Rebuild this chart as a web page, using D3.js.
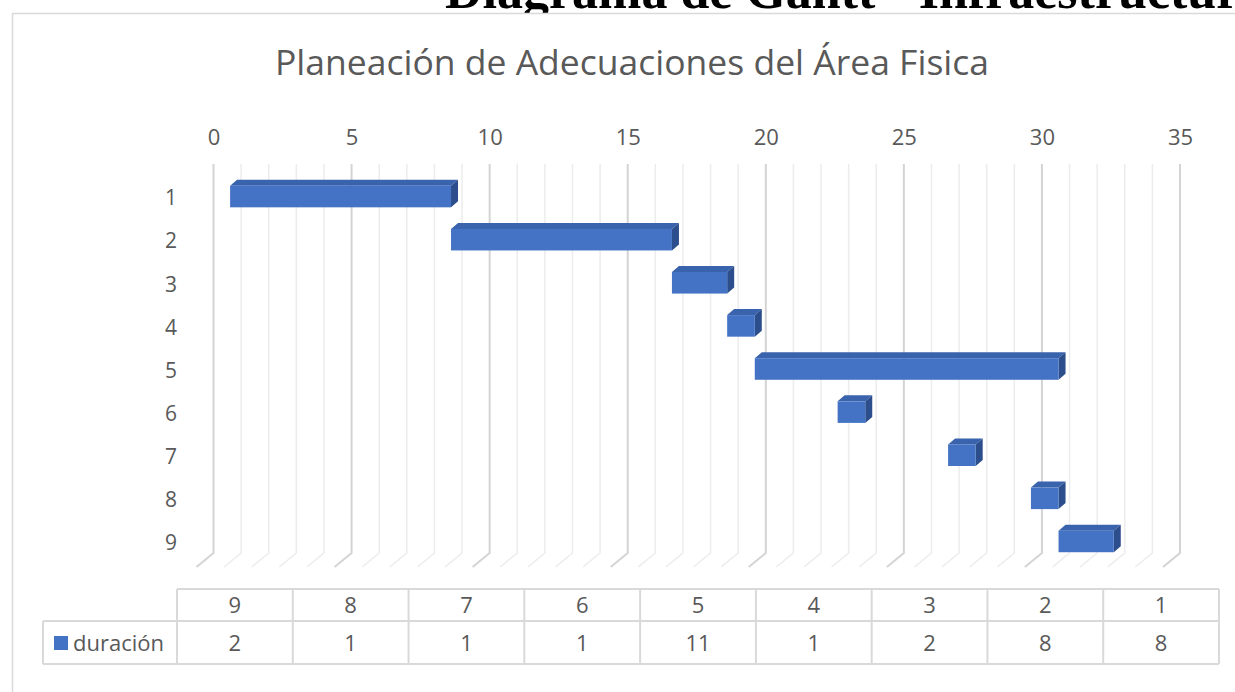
<!DOCTYPE html>
<html>
<head>
<meta charset="utf-8">
<script src="https://cdn.jsdelivr.net/npm/d3@7"></script>
<style>
  body { margin: 0; background: #fff; }
  text { font-family: "Open Sans", "Noto Sans", sans-serif; fill: #595959; }
</style>
</head>
<body>
<script>
// chart values
var categories = ["1", "2", "3", "4", "5", "6", "7", "8", "9"];
var starts     = [1, 9, 17, 19, 20, 23, 27, 30, 31];
var durations  = [8, 8, 2, 1, 11, 1, 1, 1, 2];
var xTicks     = [0, 5, 10, 15, 20, 25, 30, 35];
var seriesName = "duración";

var width = 1235, height = 692;

var svg = d3.select("body")
  .append("svg")
    .attr("width", width)
    .attr("height", height);

// page heading behind the chart, mostly hidden
svg.append("text")
    .attr("x", 445)
    .attr("y", 8)
    .style("font-family", "'Liberation Serif', 'DejaVu Serif', serif")
    .style("font-weight", "bold")
    .style("font-size", "52px")
    .style("fill", "#000")
    .text("Diagrama de Gantt - Infraestructura");

// chart area
svg.append("rect")
    .attr("x", 12.5)
    .attr("y", 13.5)
    .attr("width", 1300)
    .attr("height", 800)
    .style("fill", "#fff")
    .style("stroke", "#d9d9d9")
    .style("stroke-width", 1.5);

svg.append("text")
    .attr("x", 632)
    .attr("y", 75)
    .attr("text-anchor", "middle")
    .style("font-size", "35.5px")
    .text("Planeación de Adecuaciones del Área Fisica");

var x = d3.scaleLinear()
    .domain([0, 35])
    .range([213.5, 1180]);

var y = d3.scaleBand()
    .domain(categories)
    .range([175, 563])
    .paddingInner(0.5)
    .paddingOuter(0.25);

var wallTop = 164, wallBottom = 553;
var floorDx = -17, floorDy = 14;
var depthDx = 7, depthDy = -6, frontShift = -11;

// back wall + floor gridlines
var grid = svg.append("g").attr("class", "grid");
grid.selectAll("path")
    .data(d3.range(0, 36))
  .enter().append("path")
    .attr("d", function(d) {
      return "M" + x(d) + "," + wallTop + "V" + wallBottom +
             "l" + floorDx + "," + floorDy;
    })
    .style("fill", "none")
    .style("stroke", function(d) { return d % 5 === 0 ? "#d4d4d4" : "#ececec"; })
    .style("stroke-width", function(d) { return d % 5 === 0 ? 2 : 1.5; });

var xAxis = d3.axisTop(x)
    .tickValues(xTicks)
    .tickSize(0)
    .tickPadding(0);

svg.append("g")
    .attr("transform", "translate(0,145)")
    .call(xAxis)
    .call(function(g) {
      g.select(".domain").remove();
      g.selectAll("text").style("font-size", "22px").style("fill", "#595959");
    });

var yAxis = d3.axisLeft(y)
    .tickSize(0)
    .tickPadding(0);

svg.append("g")
    .attr("transform", "translate(177,2)")
    .call(yAxis)
    .call(function(g) {
      g.select(".domain").remove();
      g.selectAll("text").style("font-size", "21px").style("fill", "#595959");
    });

// 3d bars
var bars = categories.map(function(c, i) {
  return {
    cat: c,
    x0: x(starts[i]) + frontShift,
    x1: x(starts[i] + durations[i]) + frontShift,
    y0: y(c),
    h: y.bandwidth()
  };
});

var barG = svg.selectAll(".bar")
    .data(bars)
  .enter().append("g")
    .attr("class", "bar");

barG.append("path")
    .attr("d", function(d) {
      return "M" + d.x0 + "," + d.y0 +
             "l" + depthDx + "," + depthDy +
             "H" + (d.x1 + depthDx) +
             "L" + d.x1 + "," + d.y0 + "Z";
    })
    .style("fill", "#3a63ad");

barG.append("path")
    .attr("d", function(d) {
      return "M" + d.x1 + "," + d.y0 +
             "l" + depthDx + "," + depthDy +
             "v" + d.h +
             "L" + d.x1 + "," + (d.y0 + d.h) + "Z";
    })
    .style("fill", "#2c4e8c");

barG.append("rect")
    .attr("x", function(d) { return d.x0; })
    .attr("y", function(d) { return d.y0; })
    .attr("width", function(d) { return d.x1 - d.x0; })
    .attr("height", function(d) { return d.h; })
    .style("fill", "#4472c4");

// data table
var tableCats = categories.slice().reverse();
var tableVals = durations.slice().reverse();

var col = d3.scaleBand()
    .domain(tableCats)
    .range([177, 1219]);

var rowTop = 589, rowMid = 621, rowBot = 664, legendLeft = 43;

var table = svg.append("g").attr("class", "table");
var lineStyle = function(sel) {
  sel.style("stroke", "#d9d9d9").style("stroke-width", 2).style("fill", "none");
};

table.append("path")
    .attr("d", "M" + col.range()[0] + "," + rowTop + "H" + col.range()[1] +
               "M" + legendLeft + "," + rowMid + "H" + col.range()[1] +
               "M" + legendLeft + "," + rowBot + "H" + col.range()[1] +
               "M" + legendLeft + "," + rowMid + "V" + rowBot)
    .call(lineStyle);

table.selectAll(".vline")
    .data(tableCats.concat(["end"]))
  .enter().append("line")
    .attr("class", "vline")
    .attr("x1", function(d) { return d === "end" ? col.range()[1] : col(d); })
    .attr("x2", function(d) { return d === "end" ? col.range()[1] : col(d); })
    .attr("y1", rowTop)
    .attr("y2", rowBot)
    .call(lineStyle);

table.selectAll(".hdr")
    .data(tableCats)
  .enter().append("text")
    .attr("x", function(d) { return col(d) + col.bandwidth() / 2; })
    .attr("y", 613)
    .attr("text-anchor", "middle")
    .style("font-size", "22px")
    .text(function(d) { return d; });

table.selectAll(".val")
    .data(tableVals)
  .enter().append("text")
    .attr("x", function(d, i) { return col(tableCats[i]) + col.bandwidth() / 2; })
    .attr("y", 651)
    .attr("text-anchor", "middle")
    .style("font-size", "22px")
    .text(function(d) { return d; });

table.append("rect")
    .attr("x", 54)
    .attr("y", 636)
    .attr("width", 14)
    .attr("height", 14)
    .style("fill", "#4472c4");

table.append("text")
    .attr("x", 73)
    .attr("y", 651)
    .style("font-size", "22px")
    .text(seriesName);
</script>
</body>
</html>
